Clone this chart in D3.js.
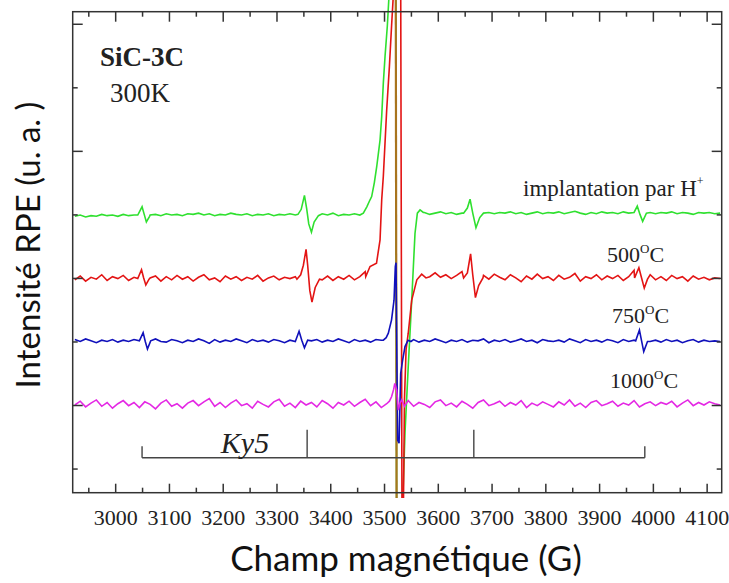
<!DOCTYPE html>
<html>
<head>
<meta charset="utf-8">
<script src="https://cdn.jsdelivr.net/npm/d3@7"></script>
<style>
  body { margin: 0; background: #fff; }
  svg { display: block; }
</style>
</head>
<body>
<div id="chart"></div>
<script>
const width = 729, height = 583;

// field grid (G) on which the noisy baselines were read, one value every 10 G
const field = d3.range(2925, 4126, 10);

// baselines (a.u.), rows of 10 points
const greenBase = [
  3.97, 3.99, 3.96, 3.98, 3.97, 4.00, 3.98, 3.99, 3.97, 4.00,
  3.98, 3.99, 4.00, 3.97, 3.99, 4.00, 3.98, 4.01, 3.99, 4.00,
  3.98, 4.01, 4.00, 4.02, 3.99, 4.01, 3.98, 4.00, 3.99, 4.02,
  4.00, 3.99, 4.01, 3.98, 4.00, 3.99, 4.01, 3.98, 4.00, 3.99,
  4.01, 3.99, 4.00, 3.98, 3.97, 4.00, 4.01, 3.99, 4.02, 3.98,
  4.00, 3.99, 4.01, 3.98, 4.01, 4.22, 4.70, 5.40, 6.60, 7.38,
  6.00, 0.20, 1.50, 3.70, 4.05, 4.03, 4.00, 4.02, 4.04, 4.01,
  4.03, 4.00, 4.02, 4.10, 3.80, 4.00, 4.02, 4.03, 4.01, 4.03,
  4.02, 4.04, 4.01, 4.03, 4.00, 4.02, 4.04, 4.01, 4.03, 4.02,
  4.04, 4.01, 4.03, 4.05, 4.02, 4.00, 4.03, 4.01, 4.04, 4.02,
  4.03, 4.01, 4.04, 4.02, 4.12, 3.90, 4.02, 4.03, 4.01, 4.03,
  4.02, 4.04, 4.01, 4.03, 4.02, 4.00, 4.03, 4.02, 4.03, 4.01,
  4.02
];
const redBase = [
  2.97, 3.03, 2.95, 3.01, 2.98, 3.05, 2.96, 3.02, 2.99, 3.04,
  2.96, 3.01, 3.08, 2.92, 3.00, 3.03, 2.95, 3.02, 2.97, 3.04,
  2.98, 3.02, 2.95, 3.01, 3.05, 2.97, 3.00, 2.94, 3.03, 2.98,
  3.02, 2.96, 3.01, 2.98, 3.04, 2.95, 3.00, 3.03, 2.97, 3.01,
  2.99, 3.02, 3.30, 2.70, 2.95, 3.01, 2.97, 3.03, 2.96, 3.02,
  2.98, 3.04, 2.97, 3.02, 3.10, 3.20, 3.22, 4.00, 5.60, 7.20,
  7.38, 0.00, 2.20, 2.90, 3.00, 3.06, 3.02, 3.08, 3.01, 3.05,
  2.99, 3.04, 3.10, 3.30, 2.75, 2.95, 3.04, 2.98, 3.06, 3.01,
  2.97, 3.05, 3.00, 2.94, 3.03, 2.98, 3.06, 2.99, 3.02, 2.96,
  3.04, 2.98, 3.01, 3.07, 2.95, 3.02, 2.99, 3.05, 2.97, 3.03,
  2.99, 3.04, 2.96, 3.02, 3.12, 2.86, 3.00, 3.05, 2.97, 3.02,
  2.96, 3.04, 2.99, 3.02, 2.95, 3.03, 2.98, 3.01, 2.97, 3.00,
  2.99
];
const blueBase = [
  2.03, 2.00, 2.04, 2.01, 1.98, 2.02, 2.00, 2.03, 1.99, 2.02,
  2.00, 2.03, 2.01, 1.98, 2.02, 2.04, 2.00, 1.99, 2.03, 2.01,
  1.98, 2.02, 2.00, 2.04, 2.01, 1.97, 2.03, 1.99, 2.02, 2.00,
  2.04, 2.01, 1.98, 2.03, 2.00, 2.02, 1.99, 2.03, 2.01, 1.98,
  2.02, 2.00, 2.12, 1.92, 2.01, 2.03, 1.99, 2.02, 2.00, 2.04,
  2.01, 1.98, 2.03, 2.00, 2.02, 1.99, 2.03, 2.01, 2.15, 2.50,
  0.50, 1.80, 2.00, 2.03, 1.99, 2.02, 2.00, 2.04, 2.01, 1.98,
  2.02, 2.00, 2.03, 1.99, 2.02, 2.01, 2.04, 1.98, 2.02, 2.00,
  2.03, 1.99, 2.01, 2.04, 2.00, 2.02, 1.98, 2.03, 2.01, 2.00,
  2.02, 1.99, 2.04, 2.01, 1.98, 2.03, 2.00, 2.02, 1.99, 2.03,
  2.01, 1.98, 2.03, 2.00, 2.02, 1.99, 2.03, 2.00, 2.02, 1.99,
  2.03, 2.00, 2.02, 1.98, 2.01, 2.03, 1.99, 2.02, 2.00, 2.01,
  2.00
];
const magentaBase = [
  1.00, 1.06, 0.97, 1.03, 1.08, 0.98, 1.04, 0.95, 1.02, 1.07,
  0.99, 1.04, 0.96, 1.05, 1.01, 0.94, 1.03, 1.08, 0.98, 1.02,
  0.95, 1.03, 1.07, 0.99, 1.05, 1.10, 0.98, 1.04, 0.96, 1.03,
  1.08, 0.99, 1.02, 0.95, 1.06, 1.01, 0.97, 1.05, 1.09, 0.98,
  1.03, 0.96, 1.06, 1.00, 1.04, 0.97, 1.07, 1.02, 0.95, 1.04,
  1.00, 1.06, 0.98, 1.04, 1.09, 0.99, 1.05, 0.96, 1.03, 1.20,
  0.95, 1.02, 1.07, 0.98, 1.04, 1.01, 0.96, 1.05, 1.08, 0.99,
  1.03, 0.97, 1.06, 1.01, 0.95, 1.04, 1.08, 0.99, 1.02, 1.06,
  0.98, 1.04, 1.00, 1.07, 0.96, 1.03, 0.99, 1.05, 1.01, 0.97,
  1.05, 1.00, 1.08, 0.98, 1.03, 0.96, 1.04, 1.07, 0.99, 1.02,
  1.06, 0.98, 1.03, 1.00, 1.07, 0.97, 1.02, 1.05, 0.99, 1.04,
  1.01, 1.06, 0.97, 1.03, 1.08, 0.99, 1.04, 1.00, 1.05, 1.02,
  1.00
];

// resonance lines read at finer resolution, [field G, a.u.]
const greenLines = [
  [[3042, 3.99], [3050, 4.12], [3054, 4.00], [3058, 3.88], [3064, 3.97]],
  [[3340, 4.00], [3346, 4.08], [3352, 4.30], [3356, 4.10], [3360, 3.85], [3365, 3.72], [3370, 3.88], [3378, 3.98]],
  [[3455, 3.99], [3461.5, 4.02], [3468, 4.12], [3474, 4.23], [3477, 4.28], [3482, 4.50], [3486.4, 4.75],
   [3492.6, 5.17], [3495.7, 5.54], [3498.7, 6.07], [3501.9, 6.49], [3506.1, 6.96], [3511, 7.70],
   [3521.8, 7.70], [3523.5, -1.10], [3532.5, -1.10], [3539, 0.56], [3545, 1.60], [3551.5, 2.65],
   [3557.6, 3.70], [3562, 4.02], [3567, 4.07], [3573, 4.03]],
  [[3648, 4.02], [3655, 4.10], [3660, 4.24], [3665, 4.02], [3671, 3.79], [3678, 3.95], [3685, 4.02]],
  [[3965, 4.03], [3971, 4.13], [3976, 4.00], [3981, 3.89], [3988, 4.02]]
];
const redLines = [
  [[3042, 2.99], [3049, 3.13], [3053, 3.00], [3057, 2.89], [3063, 2.98]],
  [[3338, 2.98], [3345, 3.05], [3350, 3.20], [3355, 3.45], [3358, 3.20], [3362, 2.80], [3366, 2.62], [3372, 2.85], [3380, 2.98]],
  [[3466, 3.02], [3474, 3.18], [3486, 3.23], [3492.6, 3.60], [3495.7, 4.23], [3498.7, 4.60], [3505, 5.65],
   [3510, 6.33], [3514, 6.96], [3519, 7.70], [3531, 7.70], [3533.5, -1.10], [3535.5, -1.10],
   [3538, 1.08], [3541, 1.87], [3545, 2.13], [3551.5, 2.65], [3561, 2.97], [3570, 3.06], [3578, 3.00]],
  [[3648, 3.00], [3655, 3.08], [3661, 3.38], [3665, 3.05], [3670, 2.69], [3676, 2.88], [3684, 3.00]],
  [[3966, 3.00], [3974, 3.16], [3979, 3.00], [3984, 2.84], [3990, 2.98]]
];
const blueLines = [
  [[3045, 2.01], [3052, 2.14], [3056, 2.00], [3060, 1.88], [3066, 2.01]],
  [[3335, 2.00], [3342, 2.16], [3347, 2.02], [3352, 1.90], [3358, 2.02]],
  [[3495, 2.02], [3498.7, 2.02], [3504, 2.06], [3508, 2.13], [3514, 2.34], [3518.6, 2.65], [3521, 3.18],
   [3522.3, 3.24], [3523.5, 2.13], [3525.3, 0.45], [3528, 0.40], [3531, 1.50], [3534.7, 1.71],
   [3539, 1.92], [3544.6, 2.02], [3550, 2.00]],
  [[3968, 2.01], [3975, 2.18], [3979, 2.01], [3983, 1.84], [3990, 2.00]]
];
const magentaLines = [
  [[3505, 1.02], [3510, 1.06], [3514, 1.13], [3518, 1.25], [3520, 1.34], [3523.5, 1.24], [3526.6, 0.92],
   [3529.7, 1.03], [3533, 1.08], [3538, 0.98]]
];

// Ky5 stick diagram: line positions and relative heights
const ky5Field = [3050, 3357, 3667, 3985];
const ky5Height = [0.18, 0.44, 0.44, 0.18];

const fieldTicks = [3000, 3100, 3200, 3300, 3400, 3500, 3600, 3700, 3800, 3900, 4000, 4100];
const fieldMinor = [2950, 3050, 3150, 3250, 3350, 3450, 3550, 3650, 3750, 3850, 3950, 4050];
const yMajor = [1, 3, 5, 7];
const yMinor = [0, 2, 4, 6];

const serif = "'Liberation Serif', 'Times New Roman', serif";
const sans = "Lato, 'Open Sans', sans-serif";

const svg = d3.select("#chart").append("svg")
  .attr("width", width)
  .attr("height", height);

const x = d3.scaleLinear().domain([2921, 4128]).range([72.7, 721.7]);
const y = d3.scaleLinear().domain([-0.38, 7.19]).range([492.7, 11.7]);

// merge the 10 G baseline with the finer readings around each line
function buildTrace(base, groups) {
  const pts = field.map((f, i) => [f, base[i]])
    .filter(([f]) => !groups.some(g => f >= g[0][0] && f <= g[g.length - 1][0]));
  groups.forEach(g => pts.push(...g));
  return pts.sort((a, b) => a[0] - b[0]);
}

const line = d3.line().x(d => x(d[0])).y(d => y(d[1]));

svg.append("clipPath").attr("id", "clip")
  .append("rect")
  .attr("x", x.range()[0]).attr("y", 0)
  .attr("width", x.range()[1] - x.range()[0])
  .attr("height", 498);

const traces = svg.append("g").attr("clip-path", "url(#clip)");

const greenTrace = buildTrace(greenBase, greenLines);
const redTrace = buildTrace(redBase, redLines);

traces.append("path").datum(greenTrace)
  .attr("fill", "none").attr("stroke", "#2fe02f").attr("stroke-width", 1.6)
  .attr("d", line);
traces.append("path").datum(redTrace)
  .attr("fill", "none").attr("stroke", "#e31414").attr("stroke-width", 1.6)
  .attr("d", line);

// the saturated descent of the green trace shows up olive in the original
const gMax = d3.maxIndex(greenTrace, d => d[1]);
const gMin = d3.minIndex(greenTrace, d => d[1]);
traces.append("path").datum(greenTrace.slice(gMax + 1, gMin + 1))
  .attr("fill", "none").attr("stroke", "#a8741e").attr("stroke-width", 2.2)
  .attr("d", line);

traces.append("path").datum(buildTrace(blueBase, blueLines))
  .attr("fill", "none").attr("stroke", "#1010bb").attr("stroke-width", 1.6)
  .attr("d", line);
traces.append("path").datum(buildTrace(magentaBase, magentaLines))
  .attr("fill", "none").attr("stroke", "#e428e4").attr("stroke-width", 1.6)
  .attr("d", line);

// Ky5 stick diagram
const ky5Level = 0.17;
const ky5 = svg.append("g").attr("stroke", "#444").attr("stroke-width", 1.4);
ky5.append("line")
  .attr("x1", x(ky5Field[0])).attr("x2", x(ky5Field[ky5Field.length - 1]))
  .attr("y1", y(ky5Level)).attr("y2", y(ky5Level));
ky5.selectAll("line.stick").data(ky5Field).enter().append("line")
  .attr("class", "stick")
  .attr("x1", d => x(d)).attr("x2", d => x(d))
  .attr("y1", y(ky5Level))
  .attr("y2", (d, i) => y(ky5Level + ky5Height[i]));

svg.append("text")
  .attr("x", 245).attr("y", 453)
  .attr("text-anchor", "middle")
  .style("font-family", serif).style("font-style", "italic").style("font-size", "30px")
  .attr("fill", "#222")
  .text("Ky5");

// frame
svg.append("rect")
  .attr("x", x.range()[0]).attr("y", y.range()[1])
  .attr("width", x.range()[1] - x.range()[0])
  .attr("height", y.range()[0] - y.range()[1])
  .attr("fill", "none").attr("stroke", "#333").attr("stroke-width", 1.5);

function styleAxis(g) {
  g.select(".domain").remove();
  g.selectAll(".tick line").attr("stroke", "#333").attr("stroke-width", 1.5);
}

svg.append("g")
  .attr("transform", `translate(0,${y.range()[0]})`)
  .call(d3.axisBottom(x).tickValues(fieldTicks).tickSize(-9).tickPadding(17).tickFormat(d3.format("d")))
  .call(styleAxis)
  .call(g => g.selectAll("text").style("font-family", serif).style("font-size", "22px").attr("fill", "#222"));
svg.append("g")
  .attr("transform", `translate(0,${y.range()[0]})`)
  .call(d3.axisBottom(x).tickValues(fieldMinor).tickSize(-5).tickFormat(""))
  .call(styleAxis);
svg.append("g")
  .attr("transform", `translate(0,${y.range()[1]})`)
  .call(d3.axisTop(x).tickValues(fieldTicks).tickSize(-10).tickFormat(""))
  .call(styleAxis);
svg.append("g")
  .attr("transform", `translate(0,${y.range()[1]})`)
  .call(d3.axisTop(x).tickValues(fieldMinor).tickSize(-5).tickFormat(""))
  .call(styleAxis);
svg.append("g")
  .attr("transform", `translate(${x.range()[0]},0)`)
  .call(d3.axisLeft(y).tickValues(yMajor).tickSize(-10).tickFormat(""))
  .call(styleAxis);
svg.append("g")
  .attr("transform", `translate(${x.range()[0]},0)`)
  .call(d3.axisLeft(y).tickValues(yMinor).tickSize(-5).tickFormat(""))
  .call(styleAxis);
svg.append("g")
  .attr("transform", `translate(${x.range()[1]},0)`)
  .call(d3.axisRight(y).tickValues(yMajor).tickSize(-10).tickFormat(""))
  .call(styleAxis);
svg.append("g")
  .attr("transform", `translate(${x.range()[1]},0)`)
  .call(d3.axisRight(y).tickValues(yMinor).tickSize(-5).tickFormat(""))
  .call(styleAxis);

// sample / temperature labels
svg.append("text")
  .attr("x", 100).attr("y", 66)
  .style("font-family", serif).style("font-weight", "bold").style("font-size", "27px")
  .attr("fill", "#222")
  .text("SiC-3C");
svg.append("text")
  .attr("x", 110).attr("y", 102)
  .style("font-family", serif).style("font-size", "27px")
  .attr("fill", "#222")
  .text("300K");

const implant = svg.append("text")
  .attr("x", 523).attr("y", 196)
  .style("font-family", serif).style("font-size", "23px")
  .attr("fill", "#222");
implant.append("tspan").text("implantation par H");
implant.append("tspan").attr("dy", -11).style("font-size", "12px").text("+");

const temps = [
  { label: "500", x: 607, y: 262 },
  { label: "750", x: 612, y: 323 },
  { label: "1000", x: 610, y: 388 }
];
temps.forEach(t => {
  const txt = svg.append("text")
    .attr("x", t.x).attr("y", t.y)
    .style("font-family", serif).style("font-size", "22px")
    .attr("fill", "#222");
  txt.append("tspan").text(t.label);
  txt.append("tspan").attr("dy", -9).style("font-size", "13px").text("O");
  txt.append("tspan").attr("dy", 9).text("C");
});

// axis titles
svg.append("text")
  .attr("transform", "translate(40,245) rotate(-90)")
  .attr("text-anchor", "middle")
  .style("font-family", sans).style("font-size", "33px")
  .attr("fill", "#111")
  .text("Intensité RPE (u. a. )");
svg.append("text")
  .attr("x", 406).attr("y", 571)
  .attr("text-anchor", "middle")
  .style("font-family", sans).style("font-size", "35px")
  .attr("fill", "#111")
  .text("Champ magnétique (G)");
</script>
</body>
</html>
